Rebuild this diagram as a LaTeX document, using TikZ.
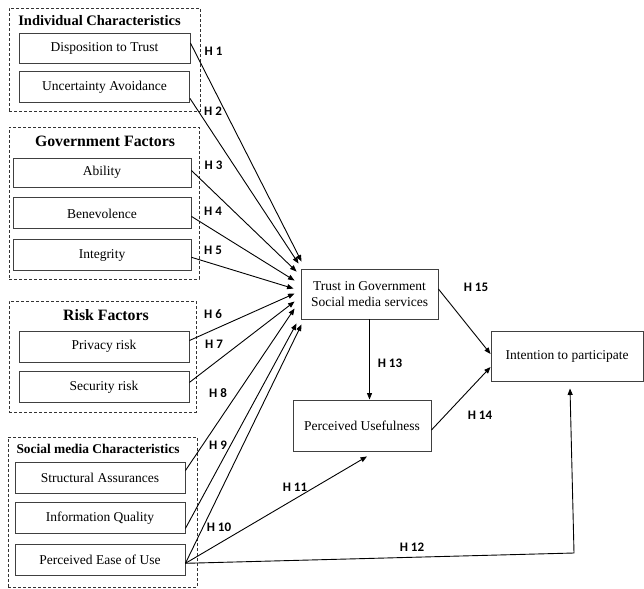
\documentclass[tikz,border=0pt]{standalone}
\usepackage{fontspec}
\setmainfont{Liberation Serif}
\newfontfamily\hypfont{Carlito}
\usetikzlibrary{arrows.meta, positioning, calc}

\begin{document}
\begin{tikzpicture}[
        x=1pt, y=-1pt,
        node distance=9pt,
        var/.style={rectangle, draw=black!75, line width=0.9pt, minimum width=170pt, minimum height=31pt, inner sep=0pt, align=center, font=\fontsize{13.5}{16}\selectfont},
        group/.style={rectangle, draw=black!80, dash pattern=on 3pt off 2pt, line width=0.8pt, inner sep=0pt},
        gtitle/.style={font=\fontsize{14.5}{16}\selectfont\bfseries},
        hyp/.style={font=\hypfont\fontsize{13}{15}\selectfont\bfseries},
        arrow/.style={-{Triangle[length=6.5pt, width=5pt]}, line width=0.9pt}
    ]
        \useasboundingbox (0,0) rectangle (644,588);

        % Groups
        \node[group, minimum width=191pt, minimum height=103pt] (indgrp) at (104.5,59.5) {};
        \node[group, minimum width=190pt, minimum height=152pt] (govgrp) at (104,203) {};
        \node[group, minimum width=187pt, minimum height=111pt] (riskgrp) at (102.5,356.5) {};
        \node[group, minimum width=189pt, minimum height=150pt] (socgrp) at (102.5,512) {};

        \node[gtitle] (indtitle) at (99.5,21) {Individual Characteristics};
        \node[gtitle, font=\fontsize{15.8}{17}\selectfont\bfseries] (govtitle) at (105,141) {Government Factors};
        \node[gtitle, font=\fontsize{15.8}{17}\selectfont\bfseries] (risktitle) at (106,315) {Risk Factors};
        \node[gtitle, font=\fontsize{13.4}{15}\selectfont\bfseries] (soctitle) at (98,449) {Social media Characteristics};

        % Individual characteristics
        \node[var, minimum width=171pt, minimum height=30pt] (dispo) at (104.5,48) {Disposition to Trust};
        \node[var, below=8pt of dispo] (uncert) {Uncertainty Avoidance};

        % Government factors
        \node[var, minimum width=178pt, minimum height=29pt] (ability) at (102,172.5) {Ability};
        \node[var, minimum width=178pt, below=10pt of ability] (benev) {Benevolence};
        \node[var, minimum width=178pt, below=10pt of benev] (integ) {Integrity};

        % Risk factors
        \node[var] (privacy) at (104,346.5) {Privacy risk};
        \node[var, below=of privacy] (security) {Security risk};

        % Social media characteristics
        \node[var] (struct) at (100,477.5) {Structural Assurances};
        \node[var, below=of struct] (infoq) {Information Quality};
        \node[var, below=10pt of infoq] (peou) {Perceived Ease of Use};

        % Outcomes
        \node[var, minimum width=137pt, minimum height=50pt] (trust) at (369.5,294) {Trust in Government\\Social media services};
        \node[var, minimum width=138pt, minimum height=51pt] (pu) at (362,425.5) {Perceived Usefulness};
        \node[var, minimum width=152pt, minimum height=50pt] (intent) at (567,356) {Intention to participate};

        % Connections
        \coordinate (peout) at ([yshift=-3pt]peou.east);
        \coordinate (h12bend) at (574,553);

        \draw[arrow] ([yshift=5pt]dispo.east) -- ([shift={(1pt,7pt)}]trust.north west);
        \draw[arrow] ([yshift=-11pt]uncert.east) -- ([shift={(-2pt,5pt)}]trust.north west);
        \draw[arrow] ([yshift=2pt]ability.east) -- ([shift={(-4pt,-3pt)}]trust.north west);
        \draw[arrow] ([yshift=-3pt]benev.east) -- ([shift={(-6pt,-12pt)}]trust.north west);
        \draw[arrow] ([yshift=-2pt]integ.east) -- ([shift={(-7pt,-20pt)}]trust.north west);
        \draw[arrow] ([yshift=6pt]privacy.east) -- ([shift={(-6pt,-25pt)}]trust.north west);
        \draw[arrow] ([yshift=5pt]security.east) -- ([shift={(-6pt,-33pt)}]trust.north west);
        \draw[arrow] ([yshift=7pt]struct.east) -- ([shift={(-6pt,-40pt)}]trust.north west);
        \draw[arrow] ([yshift=-10pt]infoq.east) -- ([shift={(-4pt,-4pt)}]trust.south west);
        \draw[arrow] (peout) -- ([shift={(1pt,-5pt)}]trust.south west);
        \draw[arrow] (peout) -- ([shift={(5pt,-5pt)}]pu.south);
        \draw[arrow] (peout) -- (h12bend) -- ([shift={(3pt,-7pt)}]intent.south);
        \draw[arrow] (trust.south) -- (trust.south |- pu.north);
        \draw[arrow] ([yshift=-4.5pt]pu.east) -- ([yshift=-11pt]intent.west);
        \draw[arrow] ([yshift=5pt]trust.east) -- ([yshift=2pt]intent.west);

        % Hypotheses
        \node[hyp] (h1) at (213.5,51) {H 1};
        \node[hyp] (h2) at (213,111) {H 2};
        \node[hyp] (h3) at (213.5,165) {H 3};
        \node[hyp] (h4) at (213,211) {H 4};
        \node[hyp] (h5) at (213,250) {H 5};
        \node[hyp] (h6) at (213,314) {H 6};
        \node[hyp] (h7) at (214,344) {H 7};
        \node[hyp] (h8) at (218,393) {H 8};
        \node[hyp] (h9) at (218,445) {H 9};
        \node[hyp] (h10) at (219,527) {H 10};
        \node[hyp] (h11) at (295,487) {H 11};
        \node[hyp] (h12) at (412,547) {H 12};
        \node[hyp] (h13) at (390,363) {H 13};
        \node[hyp] (h14) at (480,415) {H 14};
        \node[hyp] (h15) at (476,287) {H 15};
    \end{tikzpicture}
\end{document}
